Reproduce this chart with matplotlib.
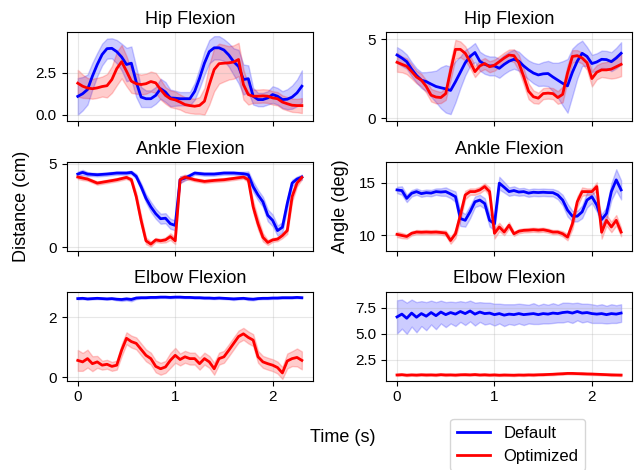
import numpy as np
import matplotlib
matplotlib.use("Agg")
import matplotlib.pyplot as plt

plt.rcParams['font.family'] = ['Liberation Sans', 'DejaVu Sans']
plt.rcParams['font.size'] = 11

# time base: 0 .. 2.3 s, one sample every 0.05 s
t = np.round(np.arange(47) * 0.05, 2)

# --- Hip flexion, distance (cm)
hip_d_def = [1.09, 1.25, 1.5, 2.3, 3.0, 3.6, 3.95, 3.97, 3.77, 3.45,
             3.0, 3.08, 1.95, 1.05, 0.95, 0.95, 1.15, 1.55, 1.35, 1.0,
             0.98, 0.95, 0.95, 0.95, 1.39, 2.18, 3.08, 3.77, 4.0, 4.0,
             3.87, 3.57, 3.17, 2.88, 2.1, 2.15, 1.1, 0.9, 0.9, 1.0,
             1.2, 1.1, 0.9, 0.92, 1.05, 1.3, 1.7]
hip_d_def_sd = [1.1, 1.0, 0.9, 0.8, 0.7, 0.65, 0.6, 0.6, 0.7, 0.8,
                1.0, 1.0, 0.9, 0.6, 0.5, 0.5, 0.5, 0.6, 0.6, 0.5,
                0.45, 0.4, 0.4, 0.4, 0.5, 0.6, 0.7, 0.7, 0.7, 0.7,
                0.65, 0.7, 0.8, 1.0, 0.9, 0.8, 0.5, 0.4, 0.4, 0.4,
                0.5, 0.5, 0.5, 0.6, 0.7, 0.8, 0.95]
hip_d_opt = [1.88, 1.7, 1.59, 1.55, 1.6, 1.68, 1.73, 2.1, 2.75, 3.17,
             2.6, 2.0, 1.85, 1.8, 1.85, 1.98, 1.9, 1.5, 1.15, 0.95,
             0.88, 0.75, 0.6, 0.54, 0.5, 0.55, 0.8, 1.8, 2.7, 3.05,
             3.08, 3.1, 3.15, 3.3, 1.8, 1.2, 1.1, 1.1, 1.12, 1.1,
             1.0, 0.95, 0.75, 0.65, 0.56, 0.54, 0.54]
hip_d_opt_sd = [0.8, 0.7, 0.6, 0.6, 0.6, 0.6, 0.7, 0.8, 1.0, 1.0,
                0.9, 0.7, 0.6, 0.6, 0.6, 0.6, 0.6, 0.6, 0.5, 0.5,
                0.5, 0.45, 0.45, 0.45, 0.45, 0.5, 0.8, 1.2, 1.3, 1.2,
                1.1, 1.0, 1.0, 1.0, 0.9, 0.6, 0.4, 0.4, 0.4, 0.4,
                0.4, 0.4, 0.4, 0.4, 0.4, 0.4, 0.45]

# --- Hip flexion, angle (deg)
hip_a_def = [3.99, 3.8, 3.57, 3.1, 2.7, 2.4, 2.31, 2.15, 2.0, 1.92,
             1.85, 1.75, 2.3, 2.9, 3.5, 3.9, 4.15, 3.6, 3.4, 3.3,
             3.3, 3.15, 3.4, 3.6, 3.72, 3.6, 3.3, 3.05, 2.85, 2.73,
             2.8, 2.82, 2.6, 2.4, 2.2, 2.04, 2.9, 3.6, 4.1, 3.9,
             3.45, 3.55, 3.72, 3.7, 3.57, 3.8, 4.1]
hip_a_def_sd = [0.5, 0.5, 0.45, 0.45, 0.45, 0.5, 0.6, 0.8, 1.0, 1.3,
                1.5, 1.5, 1.3, 1.0, 0.8, 0.6, 0.6, 0.6, 0.6, 0.6,
                0.6, 0.6, 0.6, 0.6, 0.6, 0.6, 0.6, 0.6, 0.65, 0.7,
                0.75, 0.8, 0.9, 1.1, 1.4, 1.7, 1.5, 1.1, 0.8, 0.6,
                0.55, 0.55, 0.55, 0.55, 0.6, 0.65, 0.7]
hip_a_opt = [3.53, 3.4, 3.28, 2.95, 2.6, 2.4, 2.0, 1.45, 1.33, 1.3,
             1.55, 3.0, 4.35, 4.35, 4.1, 3.57, 2.94, 3.3, 3.45, 3.25,
             3.35, 3.57, 3.8, 3.99, 3.95, 3.5, 2.63, 1.7, 1.35, 1.26,
             1.55, 1.58, 1.55, 1.3, 1.5, 2.84, 3.9, 3.95, 3.8, 3.5,
             2.5, 2.9, 3.05, 3.05, 3.1, 3.25, 3.4]
hip_a_opt_sd = [0.6, 0.5, 0.5, 0.45, 0.4, 0.4, 0.4, 0.4, 0.4, 0.35,
                0.4, 0.6, 0.6, 0.5, 0.45, 0.4, 0.35, 0.35, 0.35, 0.35,
                0.35, 0.35, 0.35, 0.35, 0.4, 0.5, 0.5, 0.5, 0.4, 0.35,
                0.35, 0.35, 0.35, 0.4, 0.5, 0.5, 0.4, 0.35, 0.35, 0.45,
                0.5, 0.45, 0.45, 0.5, 0.6, 0.7, 0.75]

# --- Ankle flexion, distance (cm)
ank_d_def = [4.39, 4.49, 4.39, 4.37, 4.35, 4.37, 4.39, 4.42, 4.45, 4.45,
             4.45, 4.49, 4.25, 3.64, 2.94, 2.43, 2.02, 1.72, 1.75, 1.42,
             1.32, 4.05, 4.15, 4.29, 4.45, 4.42, 4.39, 4.39, 4.39, 4.42,
             4.45, 4.45, 4.45, 4.43, 4.41, 4.35, 3.64, 3.14, 2.73, 1.92,
             1.62, 1.01, 1.21, 2.63, 3.85, 4.09, 4.21]
ank_d_def_sd = [0.15, 0.15, 0.12, 0.1, 0.1, 0.1, 0.1, 0.1, 0.1, 0.1,
                0.1, 0.1, 0.15, 0.2, 0.25, 0.3, 0.3, 0.3, 0.3, 0.3,
                0.3, 0.2, 0.15, 0.12, 0.1, 0.1, 0.1, 0.1, 0.1, 0.1,
                0.1, 0.1, 0.1, 0.1, 0.12, 0.2, 0.3, 0.3, 0.3, 0.35,
                0.35, 0.3, 0.3, 0.3, 0.2, 0.15, 0.15]
ank_d_opt = [4.21, 4.15, 4.09, 3.97, 3.85, 3.9, 3.95, 4.0, 4.05, 4.12,
             4.19, 4.05, 3.04, 1.62, 0.4, 0.2, 0.45, 0.4, 0.45, 0.65,
             0.4, 4.05, 4.21, 4.13, 4.05, 4.0, 3.95, 3.98, 4.01, 4.03,
             4.05, 4.09, 4.13, 4.17, 4.21, 4.05, 2.43, 1.42, 0.61, 0.3,
             0.45, 0.5, 0.71, 1.01, 3.04, 3.85, 4.19]
ank_d_opt_sd = [0.12, 0.12, 0.1, 0.1, 0.1, 0.1, 0.1, 0.1, 0.1, 0.1,
                0.1, 0.12, 0.25, 0.3, 0.2, 0.15, 0.12, 0.12, 0.15, 0.2,
                0.2, 0.2, 0.15, 0.1, 0.1, 0.1, 0.1, 0.1, 0.1, 0.1,
                0.1, 0.1, 0.1, 0.1, 0.1, 0.15, 0.35, 0.35, 0.25, 0.15,
                0.12, 0.12, 0.15, 0.2, 0.3, 0.2, 0.12]

# --- Ankle flexion, angle (deg)
ank_a_def = [14.3, 14.24, 13.5, 13.98, 14.14, 13.95, 14.04, 14.0, 14.14, 14.1,
             14.14, 13.92, 13.66, 11.6, 11.43, 12.23, 13.18, 13.34, 13.02, 11.43,
             11.1, 14.94, 14.55, 14.14, 14.24, 14.1, 14.14, 14.0, 14.08, 14.05,
             14.08, 14.05, 14.04, 13.82, 13.34, 12.39, 11.82, 11.82, 12.23, 13.34,
             13.66, 12.87, 11.5, 12.07, 14.14, 15.25, 14.3]
ank_a_def_sd = [0.3, 0.4, 0.35, 0.3, 0.3, 0.3, 0.3, 0.3, 0.3, 0.35,
                0.4, 0.4, 0.5, 0.7, 0.6, 0.6, 0.5, 0.5, 0.5, 0.6,
                0.6, 0.6, 0.5, 0.4, 0.4, 0.35, 0.35, 0.35, 0.35, 0.35,
                0.35, 0.35, 0.35, 0.4, 0.5, 0.6, 0.5, 0.5, 0.6, 0.7,
                0.6, 0.6, 0.5, 0.6, 0.8, 1.0, 0.9]
ank_a_opt = [10.1, 10.0, 9.9, 10.2, 10.32, 10.3, 10.32, 10.3, 10.32, 10.28,
             10.22, 9.52, 10.16, 11.91, 13.82, 14.14, 14.14, 14.3, 14.62, 14.14,
             10.2, 10.8, 10.32, 10.96, 10.16, 10.4, 10.48, 10.5, 10.54, 10.5,
             10.54, 10.45, 10.32, 10.32, 10.16, 9.84, 11.1, 13.18, 14.14, 14.14,
             14.14, 14.62, 10.3, 11.43, 10.8, 11.43, 10.32]
ank_a_opt_sd = [0.25, 0.25, 0.2, 0.2, 0.2, 0.2, 0.2, 0.2, 0.2, 0.2,
                0.25, 0.3, 0.4, 0.5, 0.4, 0.3, 0.3, 0.3, 0.3, 0.4,
                0.5, 0.4, 0.3, 0.3, 0.2, 0.2, 0.2, 0.2, 0.2, 0.2,
                0.2, 0.2, 0.2, 0.2, 0.25, 0.3, 0.5, 0.5, 0.4, 0.3,
                0.3, 0.4, 0.6, 0.5, 0.5, 0.5, 0.4]

# --- Elbow flexion, distance (cm)
elb_d_def = [2.63, 2.64, 2.62, 2.63, 2.64, 2.63, 2.62, 2.63, 2.61, 2.6,
             2.62, 2.6, 2.65, 2.66, 2.66, 2.67, 2.67, 2.68, 2.68, 2.67,
             2.68, 2.68, 2.67, 2.67, 2.66, 2.66, 2.65, 2.65, 2.64, 2.65,
             2.64, 2.63, 2.62, 2.63, 2.64, 2.62, 2.61, 2.63, 2.64, 2.64,
             2.65, 2.65, 2.66, 2.66, 2.66, 2.67, 2.66]
elb_d_def_sd = [0.03, 0.03, 0.03, 0.03, 0.03, 0.03, 0.03, 0.03, 0.04, 0.05,
                0.05, 0.06, 0.04, 0.03, 0.03, 0.03, 0.03, 0.03, 0.03, 0.03,
                0.03, 0.03, 0.03, 0.03, 0.03, 0.03, 0.03, 0.03, 0.03, 0.03,
                0.03, 0.03, 0.04, 0.03, 0.03, 0.04, 0.04, 0.03, 0.03, 0.03,
                0.03, 0.03, 0.03, 0.03, 0.03, 0.03, 0.03]
elb_d_opt = [0.56, 0.51, 0.62, 0.45, 0.51, 0.4, 0.43, 0.36, 0.4, 0.9,
             1.3, 1.19, 1.13, 0.93, 0.73, 0.62, 0.36, 0.28, 0.34, 0.56,
             0.73, 0.59, 0.68, 0.62, 0.62, 0.45, 0.62, 0.51, 0.28, 0.62,
             0.68, 0.9, 1.13, 1.36, 1.45, 1.33, 1.24, 0.68, 0.51, 0.45,
             0.4, 0.32, 0.14, 0.54, 0.62, 0.66, 0.56]
elb_d_opt_sd = [0.35, 0.3, 0.3, 0.25, 0.2, 0.15, 0.15, 0.15, 0.15, 0.2,
                0.2, 0.2, 0.2, 0.2, 0.2, 0.2, 0.2, 0.2, 0.2, 0.25,
                0.25, 0.2, 0.2, 0.2, 0.2, 0.2, 0.2, 0.2, 0.2, 0.2,
                0.2, 0.2, 0.2, 0.2, 0.2, 0.2, 0.2, 0.2, 0.2, 0.2,
                0.2, 0.2, 0.2, 0.25, 0.25, 0.3, 0.3]

# --- Elbow flexion, angle (deg)
elb_a_def = [6.63, 6.9, 6.5, 7.0, 6.6, 6.95, 6.7, 7.05, 6.75, 7.1,
             6.85, 7.05, 6.9, 7.15, 6.95, 7.2, 6.9, 7.1, 6.95, 7.0,
             6.85, 6.95, 6.8, 6.9, 6.85, 6.95, 6.85, 6.9, 6.95, 6.85,
             6.95, 6.9, 7.0, 6.95, 7.05, 7.1, 7.0, 7.15, 7.0, 7.05,
             6.95, 6.9, 6.95, 6.85, 6.95, 6.9, 7.0]
elb_a_def_sd = [1.6, 1.4, 1.5, 1.3, 1.45, 1.2, 1.35, 1.15, 1.3, 1.1,
                1.2, 1.05, 1.15, 1.0, 1.1, 1.0, 1.1, 0.95, 1.05, 1.0,
                1.05, 0.95, 1.05, 0.95, 1.0, 0.95, 1.0, 0.9, 1.0, 0.9,
                0.95, 0.9, 0.95, 0.85, 0.95, 0.9, 0.95, 0.85, 0.9, 0.85,
                0.9, 0.85, 0.9, 0.85, 0.9, 0.85, 0.85]
elb_a_opt = [1.05, 1.08, 1.03, 1.06, 1.04, 1.07, 1.05, 1.06, 1.04, 1.08,
             1.05, 1.06, 1.04, 1.07, 1.08, 1.06, 1.09, 1.05, 1.07, 1.04,
             1.06, 1.03, 1.05, 1.04, 1.03, 1.05, 1.04, 1.06, 1.05, 1.07,
             1.08, 1.1, 1.12, 1.15, 1.17, 1.2, 1.2, 1.18, 1.17, 1.15,
             1.14, 1.12, 1.1, 1.08, 1.06, 1.05, 1.04]
elb_a_opt_sd = [0.1, 0.08, 0.1, 0.08, 0.1, 0.08, 0.1, 0.08, 0.1, 0.08,
                0.1, 0.08, 0.1, 0.08, 0.1, 0.08, 0.1, 0.08, 0.1, 0.08,
                0.1, 0.08, 0.1, 0.08, 0.1, 0.08, 0.1, 0.08, 0.1, 0.08,
                0.1, 0.08, 0.1, 0.08, 0.1, 0.08, 0.1, 0.08, 0.1, 0.08,
                0.1, 0.08, 0.1, 0.08, 0.1, 0.08, 0.1]

titles = ["Hip Flexion", "Ankle Flexion", "Elbow Flexion"]
series_labels = ["Default", "Optimized"]

# (row, col, default mean/sd, optimized mean/sd, ylim, yticks)
panels = [
    (0, 0, hip_d_def, hip_d_def_sd, hip_d_opt, hip_d_opt_sd, (-0.38, 4.95), [0.0, 2.5]),
    (0, 1, hip_a_def, hip_a_def_sd, hip_a_opt, hip_a_opt_sd, (-0.18, 5.45), [0, 5]),
    (1, 0, ank_d_def, ank_d_def_sd, ank_d_opt, ank_d_opt_sd, (-0.2, 5.12), [0, 5]),
    (1, 1, ank_a_def, ank_a_def_sd, ank_a_opt, ank_a_opt_sd, (8.55, 16.95), [10, 15]),
    (2, 0, elb_d_def, elb_d_def_sd, elb_d_opt, elb_d_opt_sd, (-0.12, 2.86), [0, 2]),
    (2, 1, elb_a_def, elb_a_def_sd, elb_a_opt, elb_a_opt_sd, (0.5, 9.05), [2.5, 5.0, 7.5]),
]

fig, axes = plt.subplots(3, 2, figsize=(6.4, 4.7), dpi=100, sharex=True)
fig.subplots_adjust(left=0.104, right=0.988, top=0.932, bottom=0.19,
                    wspace=0.295, hspace=0.46)

for row, col, md, sd, mo, so, ylim, yt in panels:
    ax = axes[row, col]
    md, sd, mo, so = map(np.asarray, (md, sd, mo, so))
    ax.fill_between(t, md - sd, md + sd, color='blue', alpha=0.2)
    ax.plot(t, md, color='blue', lw=2, label=series_labels[0])
    ax.fill_between(t, mo - so, mo + so, color='red', alpha=0.2)
    ax.plot(t, mo, color='red', lw=2, label=series_labels[1])
    ax.set_title(titles[row], fontsize=13)
    ax.set_ylim(*ylim)
    ax.set_yticks(yt)
    ax.set_xticks([0, 1, 2])
    ax.grid(True, alpha=0.3)

axes[1, 0].set_ylabel("Distance (cm)", fontsize=13)
axes[1, 1].set_ylabel("Angle (deg)", fontsize=13)
fig.align_ylabels()
fig.text(0.536, 0.07, "Time (s)", ha='center', va='center', fontsize=13)

handles, labels = axes[0, 0].get_legend_handles_labels()
fig.legend(handles, labels, loc='upper center', bbox_to_anchor=(0.809, 0.126),
           fontsize=12)

fig.savefig("out.png", dpi=100)
